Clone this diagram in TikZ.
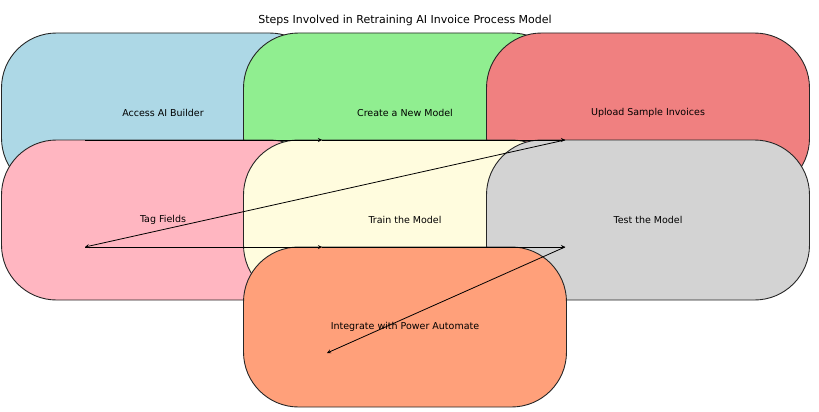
\documentclass[tikz,border=0pt]{standalone}
\usepackage{fontspec}
\setmainfont{DejaVu Sans}
\begin{document}
\begin{tikzpicture}[x=1pt,y=-1pt,
  box/.style={draw=black!85,line width=0.9pt,rounded corners=55pt,minimum width=323pt,minimum height=160pt,inner sep=0pt,font=\fontsize{9.5}{11}\selectfont},
  arr/.style={->,>=stealth,line width=0.8pt}]
\useasboundingbox (0,0) rectangle (819,412);
\node at (405,20) {\fontsize{11}{13}\selectfont Steps Involved in Retraining AI Invoice Process Model};
\node[box,fill={rgb,255:red,173;green,216;blue,230}] (b1) at (163,113) {Access AI Builder};
\node[box,fill={rgb,255:red,144;green,238;blue,144}] (b2) at (405,113) {Create a New Model};
\node[box,fill={rgb,255:red,240;green,128;blue,128}] (b3) at (648,113) {Upload Sample Invoices};
\node[box,fill={rgb,255:red,255;green,182;blue,193}] (b4) at (163,220) {Tag Fields};
\node[box,fill={rgb,255:red,255;green,252;blue,222}] (b5) at (405,220) {Train the Model};
\node[box,fill={rgb,255:red,211;green,211;blue,211}] (b6) at (648,220) {Test the Model};
\node[box,fill={rgb,255:red,255;green,160;blue,122}] (b7) at (405,327) {Integrate with Power Automate};
\coordinate (p1) at (85,140);
\coordinate (p2) at (322,140);
\coordinate (p3) at (565,140);
\coordinate (p4) at (85,247);
\coordinate (p5) at (322,247);
\coordinate (p6) at (565,247);
\coordinate (p7) at (327,353);
\draw[arr] (p1) -- (p2);
\draw[arr] (p2) -- (p3);
\draw[arr] (p3) -- (p4);
\draw[arr] (p4) -- (p5);
\draw[arr] (p5) -- (p6);
\draw[arr] (p6) -- (p7);
\end{tikzpicture}
\end{document}
